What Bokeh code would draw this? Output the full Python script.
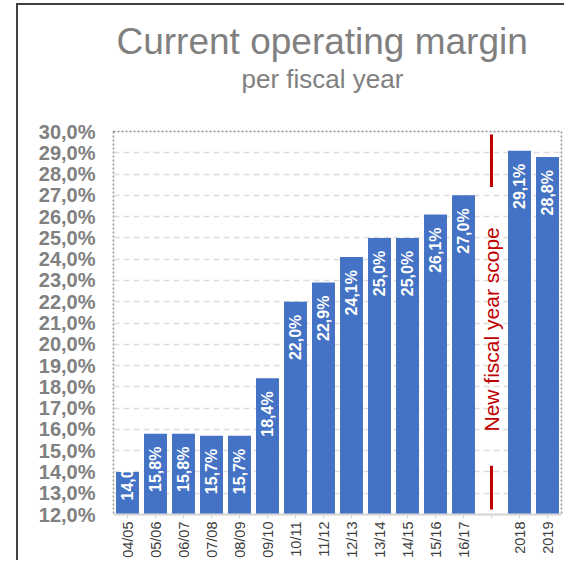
from math import pi
from bokeh.plotting import figure
from bokeh.models import FactorRange, Range1d, FixedTicker, ColumnDataSource, Title
from bokeh.core.properties import value
from bokeh.embed import file_html
from bokeh.resources import INLINE

# ---- data ----
categories = ["04/05", "05/06", "06/07", "07/08", "08/09", "09/10", "10/11", "11/12",
              "12/13", "13/14", "14/15", "15/16", "16/17", " ", "2018", "2019"]
margins = [14.0, 15.8, 15.8, 15.7, 15.7, 18.4, 22.0, 22.9,
           24.1, 25.0, 25.0, 26.1, 27.0, None, 29.1, 28.8]
y_ticks = [12, 13, 14, 15, 16, 17, 18, 19, 20, 21, 22, 23, 24, 25, 26, 27, 28, 29, 30]
y_tick_labels = ["12,0%", "13,0%", "14,0%", "15,0%", "16,0%", "17,0%", "18,0%",
                 "19,0%", "20,0%", "21,0%", "22,0%", "23,0%", "24,0%", "25,0%",
                 "26,0%", "27,0%", "28,0%", "29,0%", "30,0%"]
title_text = "Current operating margin"
subtitle_text = "per fiscal year"
scope_category = " "
scope_text = "New fiscal year scope"
scope_marker_from = [29.86, 14.29]
scope_marker_to = [27.39, 12.23]

FONT = "Liberation Sans"
BAR = "#4472C4"
RED = "#C00000"

y_min, y_max = y_ticks[0], y_ticks[-1]

xs = [c for c, v in zip(categories, margins) if v is not None]
vs = [v for v in margins if v is not None]
labels = [("%.1f" % v).replace(".", ",") + "%" for v in vs]

p = figure(width=564, height=560, x_range=FactorRange(factors=categories, range_padding=0),
           y_range=Range1d(y_min, y_max), output_backend="svg", toolbar_location=None,
           min_border_left=113, min_border_right=3, min_border_top=131, min_border_bottom=43)
# outer frame lines (left and top), drawn behind the transparent canvas border
p.styles = {"box-shadow": "inset 16px 0 0 0 white, inset 0 3px 0 0 white, "
                          "inset 18px 0 0 0 #404040, inset 0 5px 0 0 #404040"}

p.background_fill_color = "white"
p.border_fill_color = None
p.outline_line_color = "#8f8f8f"
p.outline_line_dash = "2 2"
p.outline_line_width = 1.5

# grid
p.xgrid.grid_line_color = None
p.ygrid.ticker = FixedTicker(ticks=y_ticks[1:-1])
p.ygrid.grid_line_color = "#dcdcdc"
p.ygrid.grid_line_dash = "6 4"
p.ygrid.grid_line_width = 1.5

# y axis
p.yaxis.ticker = FixedTicker(ticks=y_ticks)
p.yaxis.major_label_overrides = {t: l for t, l in zip(y_ticks, y_tick_labels)}
p.yaxis.axis_line_color = None
p.yaxis.major_tick_line_color = None
p.yaxis.minor_tick_line_color = None
p.yaxis.major_tick_out = 0
p.yaxis.major_tick_in = 0
p.yaxis.major_label_standoff = 18
p.yaxis.major_label_text_font = FONT
p.yaxis.major_label_text_font_size = "20px"
p.yaxis.major_label_text_font_style = "bold"
p.yaxis.major_label_text_color = "#808080"

# x axis
p.xaxis.axis_line_color = "#d9d9d9"
p.xaxis.axis_line_width = 2
p.xaxis.major_tick_line_color = "#d9d9d9"
p.xaxis.major_tick_line_width = 1.5
p.xaxis.major_tick_out = 4
p.xaxis.major_tick_in = 0
p.xaxis.major_label_orientation = pi / 2
p.xaxis.major_label_standoff = 3
p.xaxis.major_label_text_font = FONT
p.xaxis.major_label_text_font_size = "14.5px"
p.xaxis.major_label_text_color = "#404040"

# bars
src = ColumnDataSource(dict(x=xs, top=vs, label=labels))
p.vbar(x="x", top="top", bottom=y_min, width=0.82, source=src, fill_color=BAR, line_color=None)

# labels: inside end, or anchored at base when bar too short
inside = [i for i, v in enumerate(vs) if v - y_min >= 3]
base = [i for i, v in enumerate(vs) if v - y_min < 3]
p.text(x=[xs[i] for i in inside], y=[vs[i] for i in inside], text=[labels[i] for i in inside],
       angle=pi / 2, text_align="right", text_baseline="middle", y_offset=13,
       text_color="white", text_font=value(FONT), text_font_size="16px", text_font_style="bold")
p.text(x=[xs[i] for i in base], y=[y_min for i in base], text=[labels[i] for i in base],
       angle=pi / 2, text_align="left", text_baseline="middle", y_offset=-14,
       text_color="white", text_font=value(FONT), text_font_size="16px", text_font_style="bold")

# new scope annotation
p.segment(x0=[scope_category] * 2, y0=scope_marker_from, x1=[scope_category] * 2, y1=scope_marker_to,
          line_color=RED, line_width=3)
p.text(x=[scope_category], y=[(y_min + y_max) / 2 - 0.3], text=[scope_text], angle=pi / 2,
       text_align="center", text_baseline="middle", text_color=RED,
       text_font=value(FONT), text_font_size="21px")

# titles: an invisible spacer next to the plot, then subtitle, then title
p.add_layout(Title(text=" ", text_font_size="1px", standoff=35), "above")
p.add_layout(Title(text=subtitle_text, align="left", offset=128, text_font=FONT,
                   text_font_size="26px", text_font_style="normal", text_color="#808080",
                   standoff=0), "above")
p.add_layout(Title(text=title_text, align="left", offset=3, text_font=FONT,
                   text_font_size="37px", text_font_style="normal", text_color="#808080",
                   standoff=0), "above")

open("out.html", "w").write(file_html(p, INLINE))
